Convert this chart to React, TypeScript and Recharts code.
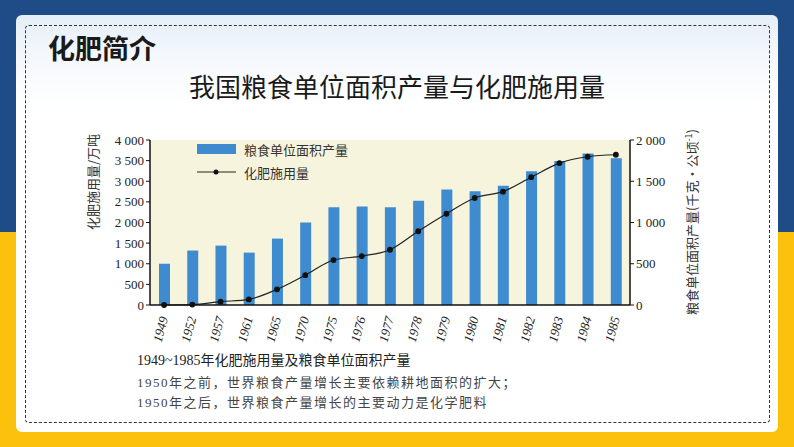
import React from 'react';
import { ComposedChart, Bar, Line, XAxis, YAxis, CartesianGrid, Legend } from 'recharts';

const years = ['1949', '1952', '1957', '1961', '1965', '1970', '1975', '1976', '1977', '1978', '1979', '1980', '1981', '1982', '1983', '1984', '1985'];
const grainYield = [1000, 1320, 1440, 1270, 1610, 2000, 2370, 2390, 2370, 2530, 2800, 2760, 2890, 3240, 3490, 3670, 3560];
const fertilizerUse = [0, 5, 40, 68, 190, 362, 545, 593, 670, 894, 1106, 1297, 1374, 1549, 1720, 1797, 1821];
const leftTicks = [0, 500, 1000, 1500, 2000, 2500, 3000, 3500, 4000];
const rightTicks = [0, 500, 1000, 1500, 2000];

const captionLines = [
    '1949~1985年化肥施用量及粮食单位面积产量',
    '1950年之前，世界粮食产量增长主要依赖耕地面积的扩大；',
    '1950年之后，世界粮食产量增长的主要动力是化学肥料',
];

const serif = "'Liberation Serif', 'DejaVu Serif', 'Noto Sans CJK SC', serif";
const cjk = "'Noto Sans CJK SC', sans-serif";
const barColor = '#3f8bd0';

const chartData = years.map((year, i) => ({
    year,
    grain: grainYield[i],
    fertilizer: fertilizerUse[i],
}));

const fmt = (v: number) => (v >= 1000 ? `${Math.floor(v / 1000)} ${String(v % 1000).padStart(3, '0')}` : `${v}`);

function YearTick(props: any) {
    const { x, y, payload } = props;
    return (
        <text
            x={0}
            y={0}
            transform={`translate(${x + 4},${y + 5}) rotate(-75)`}
            textAnchor="end"
            fontFamily={serif}
            fontStyle="italic"
            fontSize={13}
            fill="#222"
        >
            {payload.value}
        </text>
    );
}

function ChartLegend() {
    return (
        <div style={{ fontFamily: cjk, fontSize: 13, color: '#333' }}>
            <div style={{ display: 'flex', alignItems: 'center', height: 22 }}>
                <span style={{ display: 'inline-block', width: 39, height: 10, background: barColor, marginRight: 8 }} />
                粮食单位面积产量
            </div>
            <div style={{ display: 'flex', alignItems: 'center', height: 24 }}>
                <svg width={39} height={10} style={{ marginRight: 8 }}>
                    <line x1={0} y1={5} x2={39} y2={5} stroke="#222" strokeWidth={1.2} />
                    <circle cx={19} cy={5} r={2.5} fill="#111" />
                </svg>
                化肥施用量
            </div>
        </div>
    );
}

export default function App() {
    return (
        <div
            style={{
                position: 'fixed',
                left: 0,
                top: 0,
                width: 794,
                height: 447,
                overflow: 'hidden',
                background: 'linear-gradient(180deg, #1f4b86 0px, #1f4b86 232px, #fcc10c 232px, #fcc10c 447px)',
            }}
        >
            <div
                style={{
                    position: 'absolute',
                    left: 16,
                    top: 15,
                    width: 762,
                    height: 417,
                    borderRadius: 6,
                    background: 'linear-gradient(180deg, #e4eef8 0px, #f4f8fc 40px, #ffffff 90px)',
                }}
            />
            <div
                style={{
                    position: 'absolute',
                    left: 25,
                    top: 25,
                    width: 743,
                    height: 396,
                    border: '1.5px dashed #333',
                    borderRadius: 4,
                }}
            />
            <div style={{ position: 'absolute', left: 48, top: 28, fontFamily: cjk, fontWeight: 700, fontSize: 27, color: '#1a1a1a' }}>
                化肥简介
            </div>
            <div style={{ position: 'absolute', left: 0, width: 794, top: 67, textAlign: 'center', fontFamily: cjk, fontSize: 26, color: '#1a1a1a' }}>
                我国粮食单位面积产量与化肥施用量
            </div>

            <div style={{ position: 'absolute', left: 0, top: 0 }}>
                <ComposedChart
                    width={794}
                    height={447}
                    data={chartData}
                    margin={{ top: 140, left: 90, right: 104, bottom: 102 }}
                    barCategoryGap={0}
                >
                    <CartesianGrid horizontal={false} vertical={false} fill="#f7f4dd" stroke="none" />
                    <XAxis
                        dataKey="year"
                        interval={0}
                        height={40}
                        tickLine={false}
                        axisLine={{ stroke: '#111', strokeWidth: 1.5 }}
                        tick={<YearTick />}
                    />
                    <YAxis
                        yAxisId="left"
                        orientation="left"
                        width={60}
                        domain={[0, 4000]}
                        ticks={leftTicks}
                        interval={0}
                        tickFormatter={fmt}
                        tickSize={4}
                        axisLine={{ stroke: '#111', strokeWidth: 1.5 }}
                        tickLine={{ stroke: '#111' }}
                        tick={{ fill: '#222', fontSize: 13, fontFamily: serif }}
                    />
                    <YAxis
                        yAxisId="right"
                        orientation="right"
                        width={60}
                        domain={[0, 2000]}
                        ticks={rightTicks}
                        interval={0}
                        tickFormatter={fmt}
                        tickSize={4}
                        axisLine={{ stroke: '#111', strokeWidth: 1.5 }}
                        tickLine={{ stroke: '#111' }}
                        tick={{ fill: '#222', fontSize: 13, fontFamily: serif, textAnchor: 'start' }}
                    />
                    <Legend
                        layout="vertical"
                        verticalAlign="middle"
                        align="center"
                        wrapperStyle={{ position: 'absolute', left: 197, top: 138, width: 200 }}
                        content={<ChartLegend />}
                    />
                    <Bar yAxisId="left" dataKey="grain" fill={barColor} barSize={11} isAnimationActive={false} />
                    <Line
                        yAxisId="right"
                        type="monotone"
                        dataKey="fertilizer"
                        stroke="#222"
                        strokeWidth={1.2}
                        dot={{ r: 2.3, fill: '#111', stroke: '#111' }}
                        isAnimationActive={false}
                    />
                </ComposedChart>
            </div>

            <svg style={{ position: 'absolute', left: 0, top: 0 }} width={794} height={447}>
                <text transform="translate(98,182) rotate(-90)" textAnchor="middle" fontFamily={cjk} fontSize={13} fill="#333">
                    化肥施用量/万吨
                </text>
                <text transform="translate(697,222) rotate(-90)" textAnchor="middle" fontFamily={cjk} fontSize={13} fill="#333">
                    粮食单位面积产量(千克·公顷
                    <tspan dy={-5} fontSize={9}>-1</tspan>
                    <tspan dy={5}>)</tspan>
                </text>
            </svg>

            {captionLines.map((line, i) => (
                <div
                    key={i}
                    style={{
                        position: 'absolute',
                        left: 137,
                        top: [349, 372, 392][i],
                        fontFamily: serif,
                        fontSize: i === 0 ? 14 : 13,
                        letterSpacing: i === 0 ? 0 : 1.5,
                        color: i === 0 ? '#222' : '#444',
                        whiteSpace: 'nowrap',
                    }}
                >
                    {line}
                </div>
            ))}
        </div>
    );
}
